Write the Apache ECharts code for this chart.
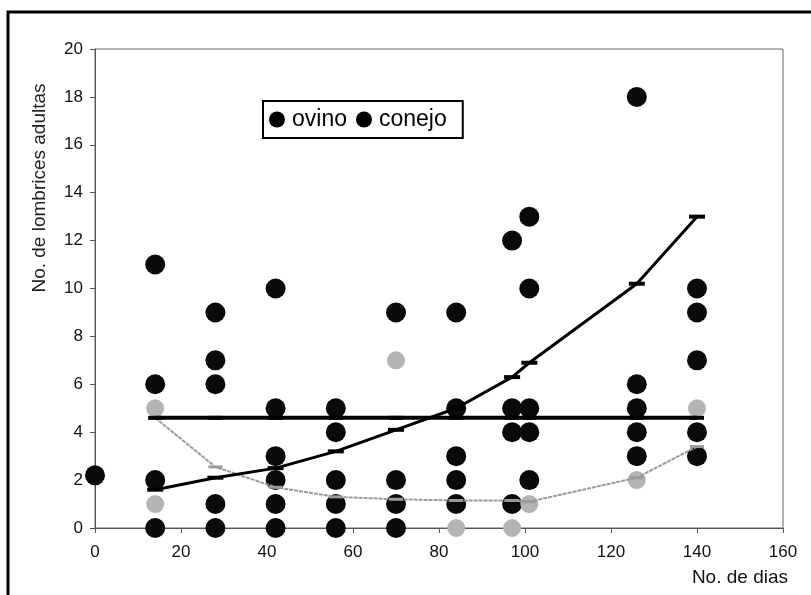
<!DOCTYPE html>
<html>
<head>
<meta charset="utf-8">
<script src="https://cdn.jsdelivr.net/npm/echarts@6/dist/echarts.min.js"></script>
<style>
html,body{margin:0;padding:0;background:#fff;}
#c{width:811px;height:595px;}
</style>
</head>
<body>
<div id="c"></div>
<script>
// ---- data ----
const ovino = [
  [0,2.2],
  [14,11],[14,6],[14,2],[14,0],
  [28,9],[28,7],[28,6],[28,1],[28,0],
  [42,10],[42,5],[42,3],[42,2],[42,1],[42,0],
  [56,5],[56,4],[56,2],[56,1],[56,0],
  [70,9],[70,2],[70,1],[70,0],
  [84,9],[84,5],[84,3],[84,2],[84,1],
  [97,12],[97,5],[97,4],[97,1],
  [101,13],[101,10],[101,5],[101,4],[101,2],
  [126,18],[126,6],[126,5],[126,4],[126,3],
  [140,10],[140,9],[140,7],[140,4],[140,3]
];
const conejo = [
  [14,5],[14,1],
  [70,7],
  [84,0],
  [97,0],
  [101,1],
  [126,2],
  [140,5]
];
const fitDays = [14,28,42,56,70,84,97,101,126,140];
const meanLine = [4.6,4.6,4.6,4.6,4.6,4.6,4.6,4.6,4.6,4.6];
const trendOvino = [1.6,2.1,2.5,3.2,4.1,5.0,6.3,6.9,10.2,13.0];
const trendConejo = [4.6,2.55,1.7,1.3,1.2,1.15,1.15,1.1,2.1,3.4];
const xTicks = [0,20,40,60,80,100,120,140,160];
const yTicks = [0,2,4,6,8,10,12,14,16,18,20];

const pair = (xs, ys) => xs.map((x,i)=>[x, ys[i]]);
const FONT = 'Liberation Sans, Arial, sans-serif';

const chart = echarts.init(document.getElementById('c'), null, {renderer:'canvas'});
chart.setOption({
  animation:false,
  backgroundColor:'#fff',
  grid:{left:95, right:28, top:49, bottom:67, show:true, borderColor:'#666', borderWidth:1},
  graphic:[
    {type:'rect', shape:{x:8,y:12,width:900,height:700}, style:{fill:'none', stroke:'#000', lineWidth:3}, z:-1},
    {type:'text', x:40, y:188, rotation:Math.PI/2, style:{text:'No. de lombrices adultas', font:'19px '+FONT, fill:'#222', textAlign:'center', textVerticalAlign:'middle'}},
    {type:'text', x:788, y:578, style:{text:'No. de dias', font:'19px '+FONT, fill:'#111', textAlign:'right', textVerticalAlign:'middle'}}
  ],
  legend:{
    left:263, top:101,
    data:[{name:'ovino', itemStyle:{color:'#000'}},{name:'conejo', itemStyle:{color:'#000'}}],
    icon:'circle', itemWidth:16, itemHeight:16, itemGap:9,
    padding:[7,16,7,6],
    borderColor:'#000', borderWidth:2,
    textStyle:{fontSize:23, fontFamily:FONT, color:'#000', padding:[0,0,0,2]}
  },
  xAxis:{
    type:'value', min:0, max:160, interval:20,
    axisLine:{show:true, lineStyle:{color:'#555', width:1}},
    axisTick:{show:true, length:5, lineStyle:{color:'#555'}},
    splitLine:{show:false},
    axisLabel:{fontSize:17, fontFamily:FONT, color:'#111', margin:16,
      formatter:v=>xTicks.includes(v)?String(v):''}
  },
  yAxis:{
    type:'value', min:0, max:20, interval:2,
    axisLine:{show:true, lineStyle:{color:'#555', width:1}},
    axisTick:{show:true, length:5, lineStyle:{color:'#555'}},
    splitLine:{show:false},
    axisLabel:{fontSize:17, fontFamily:FONT, color:'#111', margin:12,
      formatter:v=>yTicks.includes(v)?String(v):''}
  },
  series:[
    {name:'ovino', type:'scatter', data:ovino, symbol:'circle', symbolSize:20,
      itemStyle:{color:'#0a0a0a', opacity:1}, z:2},
    {name:'conejo', type:'scatter', data:conejo, symbol:'circle', symbolSize:18,
      itemStyle:{color:'#b4b4b4', opacity:1}, z:3},
    {name:'media', type:'line', data:pair(fitDays, meanLine), symbol:'rect', symbolSize:[14,4],
      lineStyle:{color:'#000', width:4}, itemStyle:{color:'#000'}, z:5},
    {name:'tend ovino', type:'line', data:pair(fitDays, trendOvino), symbol:'rect', symbolSize:[16,4],
      lineStyle:{color:'#000', width:3}, itemStyle:{color:'#000'}, z:5},
    {name:'tend conejo', type:'line', data:pair(fitDays, trendConejo), symbol:'rect', symbolSize:[14,3],
      lineStyle:{color:'#9a9a9a', width:2, type:[4,1]}, itemStyle:{color:'#9a9a9a'}, z:4}
  ]
});
</script>
</body>
</html>
